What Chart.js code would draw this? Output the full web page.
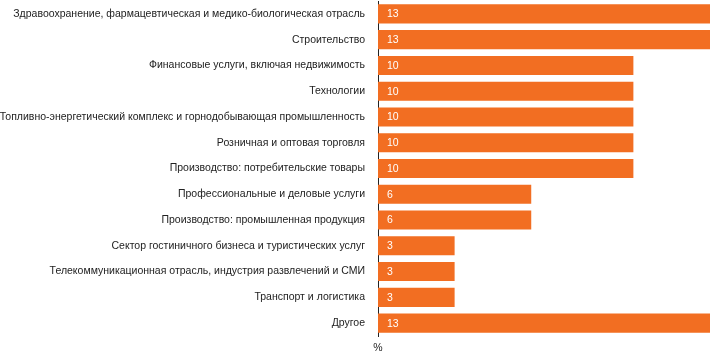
<!DOCTYPE html>
<html>
<head>
<meta charset="utf-8">
<script src="https://cdn.jsdelivr.net/npm/chart.js@4.4.1/dist/chart.umd.min.js"></script>
<style>
  body { margin: 0; background: #fff; }
  #wrap { width: 720px; height: 354px; }
</style>
</head>
<body>
<div id="wrap"><canvas id="myChart"></canvas></div>
<script>
const categories = [
    'Здравоохранение, фармацевтическая и медико-биологическая отрасль',
    'Строительство',
    'Финансовые услуги, включая недвижимость',
    'Технологии',
    'Топливно-энергетический комплекс и горнодобывающая промышленность',
    'Розничная и оптовая торговля',
    'Производство: потребительские товары',
    'Профессиональные и деловые услуги',
    'Производство: промышленная продукция',
    'Сектор гостиничного бизнеса и туристических услуг',
    'Телекоммуникационная отрасль, индустрия развлечений и СМИ',
    'Транспорт и логистика',
    'Другое'
];
const shares = [13, 13, 10, 10, 10, 10, 10, 6, 6, 3, 3, 3, 13];
const unitLabel = '%';

const FONT = '"Liberation Sans", Arial, sans-serif';

// подписи значений внутри столбцов + знак % под осью
const valueLabels = {
    id: 'valueLabels',
    afterDatasetsDraw(chart) {
        const ctx = chart.ctx;
        const meta = chart.getDatasetMeta(0);
        ctx.save();
        ctx.font = '10.5px ' + FONT;
        ctx.fillStyle = '#ffffff';
        ctx.textBaseline = 'middle';
        ctx.textAlign = 'left';
        meta.data.forEach((bar, i) => {
            ctx.fillText(String(shares[i]), bar.base + 9, bar.y + 0.5);
        });
        const x0 = chart.scales.x.getPixelForValue(0);
        ctx.fillStyle = '#222';
        ctx.textAlign = 'center';
        ctx.fillText(unitLabel, x0, chart.chartArea.bottom + 12);
        ctx.restore();
    }
};

const ctx = document.getElementById('myChart').getContext('2d');
const chart = new Chart(ctx, {
    type: 'bar',
    data: {
        labels: categories,
        datasets: [{
            data: shares,
            backgroundColor: '#f26e22',
            borderWidth: 0,
            barPercentage: 0.74,
            categoryPercentage: 1
        }]
    },
    options: {
        indexAxis: 'y',
        responsive: true,
        maintainAspectRatio: false,
        animation: false,
        layout: { padding: { top: 1, right: 10, bottom: 18, left: 0 } },
        plugins: {
            legend: { display: false },
            tooltip: { enabled: false }
        },
        scales: {
            x: {
                display: false,
                min: 0,
                max: 13
            },
            y: {
                grid: { display: false, drawTicks: false },
                border: { display: true, color: '#222', width: 1 },
                ticks: {
                    color: '#222',
                    padding: 13,
                    font: { family: FONT, size: 10.5 }
                },
                afterFit(scale) {
                    scale.width = 378;
                    scale.paddingTop = 0;
                    scale.paddingBottom = 0;
                }
            }
        }
    },
    plugins: [valueLabels]
});
</script>
</body>
</html>
